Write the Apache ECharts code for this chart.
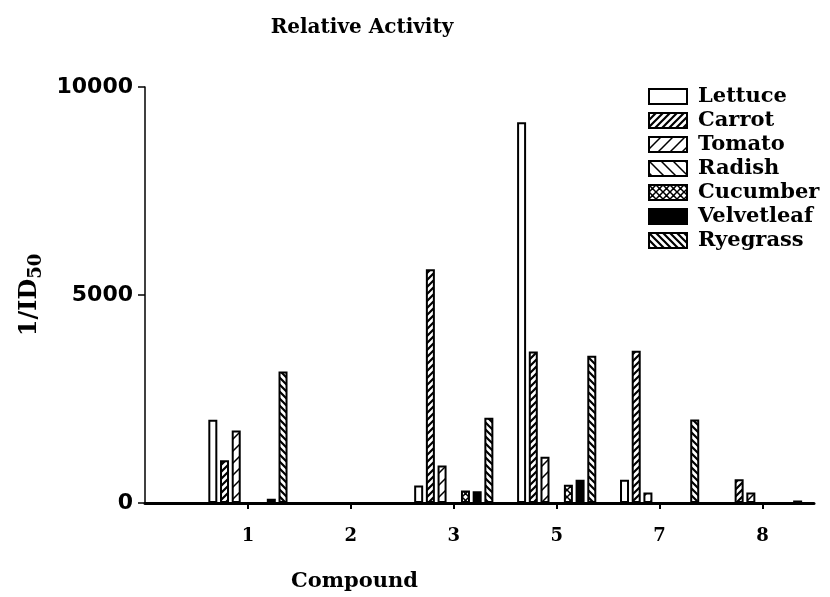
<!DOCTYPE html>
<html>
<head>
<meta charset="utf-8">
<script src="https://cdn.jsdelivr.net/npm/echarts@6/dist/echarts.min.js"></script>
<style>html,body{margin:0;padding:0;background:#fff}#c{width:830px;height:597px}</style>
</head>
<body>
<div id="c"></div>
<script>
const compounds = ['1', '2', '3', '5', '7', '8'];
const plants = ['Lettuce', 'Carrot', 'Tomato', 'Radish', 'Cucumber', 'Velvetleaf', 'Ryegrass'];
const lettuce    = [2000, 0, 420, 9150, 560, 0];
const carrot     = [1030, 0, 5620, 3640, 3660, 570];
const tomato     = [1740, 0, 900, 1110, 250, 250];
const radish     = [0, 0, 0, 0, 0, 0];
const cucumber   = [0, 0, 300, 440, 0, 0];
const velvetleaf = [100, 0, 280, 560, 0, 0];
const ryegrass   = [3160, 0, 2050, 3540, 2010, 60];
const yTicks = [0, 5000, 10000];
const seriesValues = [lettuce, carrot, tomato, radish, cucumber, velvetleaf, ryegrass];

function pattern(kind) {
  const s = kind === 'sparse/' || kind === 'sparse\\' ? 12 : 7;
  const c = document.createElement('canvas');
  c.width = s; c.height = s;
  const g = c.getContext('2d');
  g.fillStyle = '#fff'; g.fillRect(0, 0, s, s);
  g.strokeStyle = '#000'; g.fillStyle = '#000';
  g.lineWidth = kind.startsWith('sparse') ? 1.5 : 2.2;
  function fwd() { g.beginPath(); g.moveTo(-1, s + 1); g.lineTo(s + 1, -1); g.moveTo(-1, 1); g.lineTo(1, -1); g.moveTo(s - 1, s + 1); g.lineTo(s + 1, s - 1); g.stroke(); }
  function back() { g.beginPath(); g.moveTo(-1, -1); g.lineTo(s + 1, s + 1); g.moveTo(s - 1, -1); g.lineTo(s + 1, 1); g.moveTo(-1, s - 1); g.lineTo(1, s + 1); g.stroke(); }
  if (kind === '/' || kind === 'sparse/') fwd();
  else if (kind === '\\' || kind === 'sparse\\') back();
  else if (kind === 'x') { g.lineWidth = 1.5; fwd(); back(); g.beginPath(); g.arc(s / 2, s / 2 + 0.5, 1, 0, Math.PI * 2); g.fill(); }
  return { image: c, repeat: 'repeat' };
}

const fills = ['#ffffff', pattern('/'), pattern('sparse/'), pattern('sparse\\'), pattern('x'), '#000000', pattern('\\')];

const serif = '"DejaVu Serif", serif';
const chart = echarts.init(document.getElementById('c'), null, { renderer: 'canvas' });
chart.setOption({
  animation: false,
  backgroundColor: '#fff',
  title: {
    text: 'Relative Activity',
    left: 357, top: 13, textAlign: 'center',
    textStyle: { fontFamily: serif, fontWeight: 'bold', fontSize: 20, color: '#000' }
  },
  legend: {
    data: plants,
    orient: 'vertical',
    left: 643, top: 81,
    itemWidth: 38, itemHeight: 15, itemGap: 3,
    icon: 'rect',
    textStyle: { fontFamily: serif, fontWeight: 'bold', fontSize: 21, color: '#000', padding: [0, 0, 0, 6] }
  },
  grid: { left: 145, right: 16, top: 87, bottom: 92, containLabel: false },
  xAxis: {
    type: 'value', min: 0, max: 6.5, interval: 1,
    name: 'Compound', nameLocation: 'middle', nameGap: 68,
    nameTextStyle: { fontFamily: serif, fontWeight: 'bold', fontSize: 21, color: '#000', padding: [0, 250, 0, 0] },
    axisLine: { lineStyle: { color: '#000', width: 3 } },
    axisTick: { show: true, length: 6, inside: false, customValues: [1, 2, 3, 4, 5, 6], lineStyle: { color: '#000', width: 2 } },
    axisLabel: {
      customValues: [1, 2, 3, 4, 5, 6],
      formatter: v => compounds[Math.round(v) - 1] || '',
      margin: 24, fontFamily: serif, fontWeight: 'bold', fontSize: 18, color: '#000'
    },
    splitLine: { show: false }
  },
  yAxis: {
    type: 'value', min: 0, max: 10000, interval: 5000,
    name: '1/ID{s|50}', nameLocation: 'middle', nameGap: 100, nameRotate: 90,
    nameTextStyle: {
      fontFamily: serif, fontWeight: 'bold', fontSize: 24, color: '#000',
      rich: { s: { fontFamily: serif, fontWeight: 'bold', fontSize: 18, color: '#000', verticalAlign: 'bottom', padding: [12, 0, 0, 0] } }
    },
    axisLine: { show: true, lineStyle: { color: '#000', width: 1.5 } },
    axisTick: { show: true, length: 7, lineStyle: { color: '#000', width: 1.5 } },
    axisLabel: {
      formatter: v => (yTicks.indexOf(v) >= 0 ? String(v) : ''),
      margin: 12, fontFamily: '"DejaVu Sans", sans-serif', fontWeight: 'bold', fontSize: 22, color: '#000'
    },
    splitLine: { show: false }
  },
  series: plants.map((p, k) => ({
    name: p,
    type: 'bar',
    barWidth: 9,
    barGap: '30%',
    data: seriesValues[k].map((v, i) => [i + 1, v]),
    itemStyle: { color: fills[k], borderColor: '#000', borderWidth: 2 }
  }))
});
</script>
</body>
</html>
